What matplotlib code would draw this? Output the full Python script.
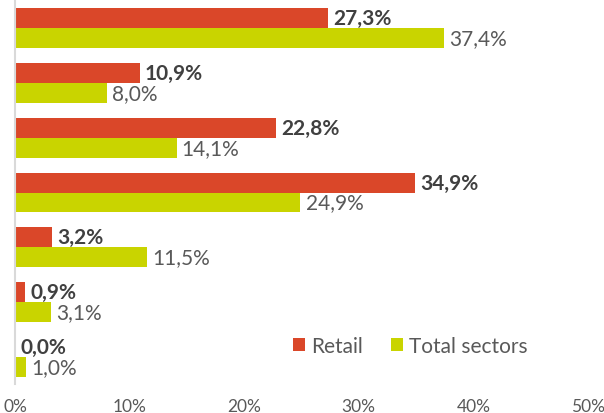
import matplotlib.pyplot as plt
import numpy as np

plt.rcParams['font.family'] = ['Lato', 'DejaVu Sans']

# data, top to bottom
retail = [27.3, 10.9, 22.8, 34.9, 3.2, 0.9, 0.0]
total = [37.4, 8.0, 14.1, 24.9, 11.5, 3.1, 1.0]
series_names = ['Retail', 'Total sectors']
xticks = [0, 10, 20, 30, 40, 50]

RED = '#DA4729'
GREEN = '#C9D400'
GREY = '#595959'

fig = plt.figure(figsize=(6.04, 4.14), dpi=100)
ax = fig.add_axes([15 / 604, 29 / 414, 573 / 604, 383 / 414])

y = np.arange(len(retail))
h = 0.365
ax.barh(y - h / 2, retail, height=h, color=RED, label=series_names[0])
ax.barh(y + h / 2, total, height=h, color=GREEN, label=series_names[1])

fmt = lambda v: f'{v:.1f}%'.replace('.', ',')
for i in range(len(retail)):
    ax.text(retail[i] + 0.45, y[i] - h / 2, fmt(retail[i]), va='center', ha='left',
            fontsize=15, fontweight='bold', color='#404040')
    ax.text(total[i] + 0.45, y[i] + h / 2, fmt(total[i]), va='center', ha='left',
            fontsize=15, color=GREY)

ax.set_xlim(0, 50)
ax.set_ylim(6.5, -0.5)
ax.set_xticks(xticks)
ax.set_xticklabels([f'{t}%' for t in xticks], fontsize=12.5, color=GREY)
ax.tick_params(axis='x', length=0, pad=10)
ax.set_yticks([])
for s in ['top', 'right', 'bottom']:
    ax.spines[s].set_visible(False)
ax.spines['left'].set_color('#D9D9D9')
ax.spines['left'].set_linewidth(1.5)

leg = ax.legend(loc='center', bbox_to_anchor=(0.69, 0.1), ncol=2, frameon=False,
                fontsize=15, handlelength=0.6, handleheight=0.6, handletextpad=0.3,
                columnspacing=1.3)
for t in leg.get_texts():
    t.set_color(GREY)

fig.savefig('out.png', dpi=100)
